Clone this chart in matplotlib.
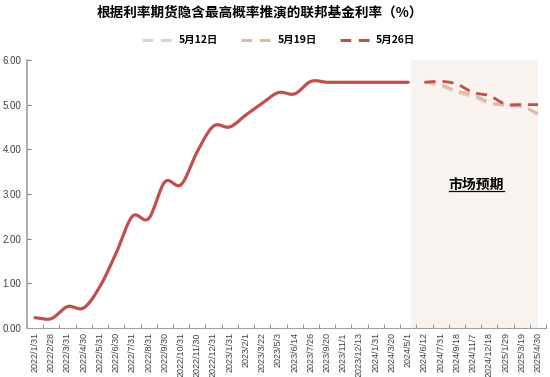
import numpy as np
import matplotlib
matplotlib.use('Agg')
import matplotlib.pyplot as plt
from matplotlib.lines import Line2D

plt.rcParams['font.family'] = ['Liberation Sans', 'Noto Sans CJK SC', 'DejaVu Sans']

# 数据
cats = ['2022/1/31', '2022/2/28', '2022/3/31', '2022/4/30', '2022/5/31', '2022/6/30',
        '2022/7/31', '2022/8/31', '2022/9/30', '2022/10/31', '2022/11/30', '2022/12/31',
        '2023/1/31', '2023/2/1', '2023/3/22', '2023/5/3', '2023/6/14', '2023/7/26',
        '2023/9/20', '2023/11/1', '2023/12/13', '2024/1/31', '2024/3/20', '2024/5/1',
        '2024/6/12', '2024/7/31', '2024/9/18', '2024/11/7', '2024/12/18', '2025/1/29',
        '2025/3/19', '2025/4/30']
hist = [0.23, 0.21, 0.48, 0.45, 0.93, 1.68, 2.50, 2.45, 3.27, 3.21, 3.95, 4.52,
        4.50, 4.77, 5.03, 5.27, 5.24, 5.52, 5.50, 5.50, 5.50, 5.50, 5.50, 5.50]
may12 = [5.50, 5.42, 5.27, 5.18, 5.02, 5.00, 5.00, 4.75]
may19 = [5.50, 5.45, 5.30, 5.22, 5.05, 4.98, 4.95, 4.80]
may26 = [5.50, 5.52, 5.46, 5.27, 5.20, 5.01, 5.00, 5.00]
names = ['5月12日', '5月19日', '5月26日']
colors = ['#DCD6C0', '#E3B8AA', '#C0504D']


def smooth(x, y, n=20):
    # 类似Excel平滑线 (Catmull-Rom)
    x = np.asarray(x, float); y = np.asarray(y, float)
    px = np.concatenate([[2 * x[0] - x[1]], x, [2 * x[-1] - x[-2]]])
    py = np.concatenate([[2 * y[0] - y[1]], y, [2 * y[-1] - y[-2]]])
    ox, oy = [], []
    for i in range(1, len(px) - 2):
        t = np.linspace(0, 1, n, endpoint=False)
        for p, o in ((px, ox), (py, oy)):
            p0, p1, p2, p3 = p[i - 1], p[i], p[i + 1], p[i + 2]
            o.extend(0.5 * (2 * p1 + (-p0 + p2) * t + (2 * p0 - 5 * p1 + 4 * p2 - p3) * t ** 2
                            + (-p0 + 3 * p1 - 3 * p2 + p3) * t ** 3))
    ox.append(x[-1]); oy.append(y[-1])
    return ox, oy


fig = plt.figure(figsize=(5.5, 3.77), dpi=100)
ax = fig.add_axes([0.049, 0.130, 0.944, 0.711])

n_hist = len(hist)
fx = np.arange(n_hist, n_hist + len(may26))
ax.axvspan(n_hist - 0.8, len(cats) - 1, color='#F9F3F0', zorder=0, lw=0)

sx, sy = smooth(np.arange(n_hist), hist)
ax.plot(sx, sy, color=colors[2], lw=2.3, solid_capstyle='round', zorder=3)
for vals, c, z in zip([may12, may19, may26], colors, [2, 2.5, 3]):
    sx, sy = smooth(fx, vals)
    ax.plot(sx, sy, color=c, lw=2.0, dashes=(4, 2.5), zorder=z)

ax.set_xlim(-0.5, len(cats) - 0.5)
ax.set_ylim(0, 6)
ax.set_yticks(np.arange(0, 6.01, 1))
ax.set_yticklabels(['%.2f' % v for v in np.arange(0, 6.01, 1)], fontsize=7, color='#404040')
ax.set_xticks(np.arange(len(cats)))
ax.set_xticklabels(cats, rotation=90, fontsize=6.5, color='#404040')
ax.set_xticks(np.arange(len(cats) + 1) - 0.5, minor=True)
ax.tick_params(axis='x', which='major', length=0, pad=3)
ax.tick_params(axis='x', which='minor', length=3, direction='in', color='#808080')
ax.tick_params(axis='y', length=3, direction='in', color='#808080', pad=4)
for s in ['top', 'right']:
    ax.spines[s].set_visible(False)
ax.spines['left'].set_color('#A0A0A0')
ax.spines['bottom'].set_color('#A0A0A0')
ax.spines['left'].set_linewidth(1.2)

t = ax.text(27.2, 3.2, '市场预期', fontsize=10, fontweight='bold', ha='center', va='center',
            family=['Noto Sans CJK SC'])
fig.canvas.draw()
bb = t.get_window_extent().transformed(ax.transData.inverted())
ax.plot([bb.x0, bb.x1], [bb.y0 + 0.02, bb.y0 + 0.02], color='black', lw=0.9)

fig.text(0.473, 0.968, '根据利率期货隐含最高概率推演的联邦基金利率（%）', fontsize=9.8,
         fontweight='bold', ha='center', va='center', family=['Noto Sans CJK SC'])

handles = [Line2D([], [], color=c, lw=2.2, dashes=(3.5, 2.5)) for c in colors]
fig.legend(handles, names, loc='center', bbox_to_anchor=(0.507, 0.893), ncol=3, frameon=False,
           prop={'family': 'Noto Sans CJK SC', 'weight': 'bold', 'size': 7.5},
           handlelength=3, columnspacing=2.2, handletextpad=0.5)

fig.savefig('out.png', dpi=100)
